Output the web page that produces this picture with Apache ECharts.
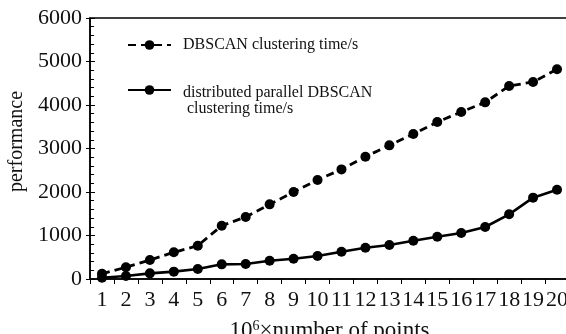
<!DOCTYPE html>
<html>
<head>
    <meta charset="utf-8"/>
    <script src="https://cdn.jsdelivr.net/npm/echarts@6/dist/echarts.min.js"></script>
</head>
<body style="margin:0">
<div id="main" style="width: 566px;height:334px;"></div>
<script type="text/javascript">
    // data
    var categories = ['1','2','3','4','5','6','7','8','9','10','11','12','13','14','15','16','17','18','19','20'];
    var dbscanTime = [120, 270, 437, 613, 766, 1226, 1425, 1716, 2000, 2276, 2520, 2812, 3072, 3333, 3609, 3839, 4061, 4437, 4529, 4820];
    var parallelTime = [30, 70, 130, 169, 230, 337, 345, 421, 467, 529, 628, 720, 782, 881, 973, 1057, 1195, 1487, 1870, 2053];
    var seriesNames = ['DBSCAN clustering time/s', 'distributed parallel DBSCAN\nclustering time/s'];

    var font = 'Liberation Serif';
    var myChart = echarts.init(document.getElementById('main'));

    var option = {
        animation: false,
        backgroundColor: '#fff',
        grid: {
            left: 90, right: -3, top: 18, bottom: 55,
            outerBoundsMode: 'none',
            containLabel: false,
            show: true, borderColor: '#000', borderWidth: 1.5
        },
        legend: [
            {
                data: [seriesNames[0]],
                left: 122, top: 32,
                itemWidth: 43, itemHeight: 12,
                textStyle: {fontFamily: font, fontSize: 16, color: '#111', lineHeight: 16, padding: [0, 0, 0, 7]}
            },
            {
                data: [seriesNames[1]],
                left: 122, top: 61,
                itemWidth: 43, itemHeight: 12,
                textStyle: {
                    fontFamily: font, fontSize: 16, color: '#111', padding: [0, 0, 0, 7],
                    rich: {
                        e: {fontFamily: font, fontSize: 16, lineHeight: 22},
                        t: {fontFamily: font, fontSize: 16, lineHeight: 16, color: '#111'}
                    }
                },
                formatter: function (name) {
                    var parts = name.split('\n');
                    return '{e| }\n{t|' + parts[0] + '}\n{t| ' + parts[1] + '}';
                }
            }
        ],
        xAxis: {
            type: 'category',
            data: categories,
            boundaryGap: true,
            name: '{a|10}{s|6}{a|×number of points}',
            nameLocation: 'middle',
            nameGap: 40,
            nameTextStyle: {
                rich: {
                    a: {fontFamily: font, fontSize: 23, color: '#111'},
                    s: {fontFamily: font, fontSize: 14, color: '#111', verticalAlign: 'top', padding: [0, 0, 9, 0]}
                }
            },
            axisLine: {lineStyle: {color: '#000', width: 1.5}},
            axisTick: {show: true, inside: false, length: 5, alignWithLabel: false, lineStyle: {color: '#000'}},
            axisLabel: {fontFamily: font, fontSize: 22, color: '#111', margin: 10, interval: 0},
            splitLine: {show: false}
        },
        yAxis: [
            {
                type: 'value',
                min: 0, max: 6000, interval: 1000,
                name: 'performance',
                nameLocation: 'middle',
                nameGap: 60,
                nameTextStyle: {fontFamily: font, fontSize: 20, color: '#111', padding: [0, 0, 0, 14]},
                axisLine: {show: true, lineStyle: {color: '#000', width: 1.5}},
                axisTick: {show: true, inside: false, length: 4, lineStyle: {color: '#000'}},
                axisLabel: {fontFamily: font, fontSize: 22, color: '#111', margin: 8, formatter: function (v) { return String(v); }},
                splitLine: {show: false}
            },
            {
                type: 'value',
                position: 'left',
                min: 0, max: 6000, interval: 1000,
                axisLine: {show: false},
                axisTick: {show: true, inside: true, length: 5, lineStyle: {color: '#000'}},
                minorTick: {show: true, splitNumber: 5, length: 4, lineStyle: {color: '#000'}},
                axisLabel: {show: false},
                splitLine: {show: false}
            }
        ],
        series: [
            {
                name: seriesNames[0],
                type: 'line',
                data: dbscanTime,
                symbol: 'circle',
                symbolSize: 10,
                itemStyle: {color: '#000'},
                lineStyle: {color: '#000', width: 2.8, type: [8, 5]}
            },
            {
                name: seriesNames[1],
                type: 'line',
                data: parallelTime,
                symbol: 'circle',
                symbolSize: 10,
                itemStyle: {color: '#000'},
                lineStyle: {color: '#000', width: 2.6}
            }
        ]
    };

    myChart.setOption(option);
</script>
</body>
</html>
